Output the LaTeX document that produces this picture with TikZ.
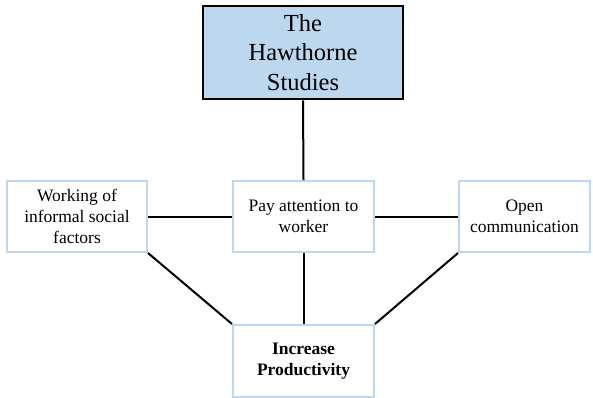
\documentclass[tikz,border=0pt]{standalone}
\usepackage{fontspec}
\setmainfont{Liberation Serif}
\definecolor{boxblue}{HTML}{BDD7EE}
\definecolor{topfill}{HTML}{BDD7EE}
\begin{document}
\begin{tikzpicture}[x=1pt,y=-1pt,
  sidebox/.style={draw=boxblue,line width=2pt,fill=white,inner sep=0pt,align=center,
    font=\fontsize{17.5}{21}\selectfont},
  conn/.style={line width=2pt,black}]
\useasboundingbox (0,0) rectangle (593,397);
\node[draw=black,line width=2.6pt,fill=topfill,minimum width=200pt,minimum height=93pt,align=center,
  font=\fontsize{24.5}{29.5}\selectfont,inner sep=0pt] (top) at (303,52.5) {The\\Hawthorne\\Studies};
\node[sidebox,minimum width=140pt,minimum height=71pt] (left) at (77,216.5) {Working of\\informal social\\factors};
\node[sidebox,minimum width=141pt,minimum height=71pt] (mid) at (303.5,216.5) {Pay attention to\\worker};
\node[sidebox,minimum width=131pt,minimum height=71pt] (right) at (524.5,216.5) {Open\\communication};
\node[sidebox,minimum width=141pt,minimum height=72pt,font=\fontsize{17.5}{21}\selectfont\bfseries] (bot) at (303.5,361) {Increase\\Productivity};
\draw[conn] (top.south) -- (mid.north);
\draw[conn] (left.east) -- (mid.west);
\draw[conn] (mid.east) -- (right.west);
\draw[conn] (mid.south) -- (bot.north);
\draw[conn] (left.south east) -- (bot.north west);
\draw[conn] (right.south west) -- (bot.north east);
\end{tikzpicture}
\end{document}
